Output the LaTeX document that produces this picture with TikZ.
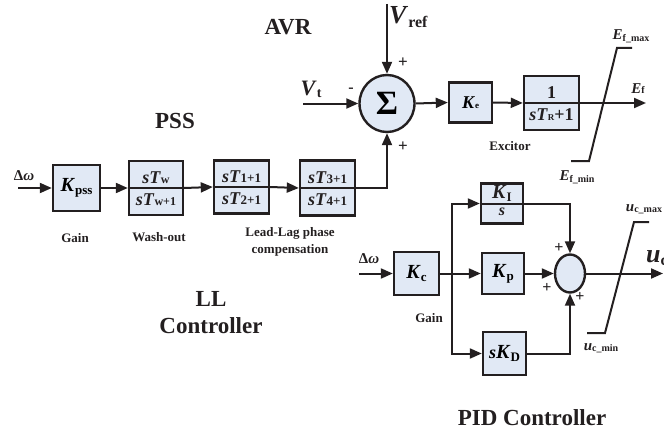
\documentclass[tikz,border=0pt]{standalone}
\usepackage{fontspec}
\setmainfont{Liberation Serif}
\usetikzlibrary{shapes.geometric,arrows.meta}
\definecolor{boxblue}{HTML}{E1E9F5}
\definecolor{ink}{HTML}{231F20}
\newcommand\fs[1]{\fontsize{#1}{#1}\selectfont}
\newcommand\lo[2]{\raisebox{-#1pt}{#2}}
\tikzset{
  blk/.style={draw=ink, line width=2.4pt, fill=boxblue, inner sep=0pt},
  arr/.style={line width=2pt, draw=ink, -{Triangle[length=12pt,width=10pt]}},
  ln/.style={line width=2pt, draw=ink},
  bar/.style={line width=2pt, draw=ink},
  lbl/.style={font=\fs{13}\bfseries, text=ink, inner sep=0pt, align=center},
  ttl/.style={font=\fontsize{23}{27}\selectfont\bfseries, text=ink, inner sep=0pt, align=center},
  sym/.style={font=\bfseries, text=ink, inner sep=0pt},
  num/.style={font=\bfseries, text=ink, inner xsep=0pt, inner ysep=4pt, anchor=south},
  den/.style={font=\bfseries, text=ink, inner xsep=0pt, inner ysep=5.5pt, anchor=north},
}
\begin{document}
\begin{tikzpicture}[x=1pt,y=-1pt]
\useasboundingbox (0,0) rectangle (664,436);
\clip (0,0) rectangle (664,436);

% ---------- titles and labels
\node[ttl] (avr) at (288,27) {AVR};
\node[ttl] (pss) at (175,121) {PSS};
\node[ttl] (llc) at (211,313) {LL\\Controller};
\node[ttl] (pidc) at (532,418) {PID Controller};
\node[lbl] (gain1) at (75,238) {Gain};
\node[lbl] (wash) at (159,237) {Wash-out};
\node[lbl, font=\fontsize{13}{17}\selectfont\bfseries] (llp) at (290,242) {Lead-Lag phase\\compensation};
\node[lbl] (exc) at (510,146) {Excitor};
\node[lbl] (gain2) at (429,318) {Gain};

% ---------- PSS chain
\coordinate (in1) at (18,188);
\node[sym, font=\fs{15}\bfseries] (dw1) at (24,176) {Δ\textit{ω}};
\node[blk, minimum width=47pt, minimum height=46pt, font=\bfseries] (kpss) at (76.5,188)
  {\fs{20}\textit{K}\lo{3}{\fs{13}pss}};
\node[blk, minimum width=54pt, minimum height=54pt] (tw) at (156,188) {};
\node[blk, minimum width=55pt, minimum height=53pt] (t1) at (241.5,187) {};
\node[blk, minimum width=55pt, minimum height=55pt] (t3) at (327.5,188) {};
\draw[bar] (tw.west) -- (tw.east);
\draw[bar] (t1.west) -- (t1.east);
\draw[bar] (t3.west) -- (t3.east);
\node[num] (twn) at (tw.center) {\fs{18}\textit{sT}\fs{12}w};
\node[den] (twd) at (tw.center) {\fs{18}\textit{sT}\fs{12}w+1};
\node[num] (t1n) at (t1.center) {\fs{18}\textit{sT}\fs{13}1+1};
\node[den] (t1d) at (t1.center) {\fs{18}\textit{sT}\fs{13}2+1};
\node[num] (t3n) at (t3.center) {\fs{18}\textit{sT}\fs{13}3+1};
\node[den] (t3d) at (t3.center) {\fs{18}\textit{sT}\fs{13}4+1};
\draw[arr] (in1) -- (kpss.west);
\draw[arr] (kpss.east) -- (tw.west);
\draw[arr] (tw.east) -- (t1.west);
\draw[arr] (t1.east) -- (t3.west);

% ---------- AVR
\node[blk, ellipse, minimum width=55pt, minimum height=57pt, line width=2.4pt,
  font=\fs{34}\bfseries] (sum) at (387,103.5) {Σ};
\coordinate (vref) at (387,4);
\coordinate (vt) at (303,103.5);
\node[sym, anchor=west] (vreft) at (389,17) {\fs{26}\textit{V}\lo{4}{\fs{16}ref}};
\node[sym] (vtt) at (311,89) {\fs{22}\textit{V}\lo{2}{\fs{14}t}};
\node[sym, font=\fs{16}\bfseries] (minus) at (351,90) {-};
\node[sym, font=\fs{17}\bfseries] (p1) at (403,63) {+};
\node[sym, font=\fs{17}\bfseries] (p2) at (403,147) {+};
\draw[arr] (vref) -- (sum.north);
\draw[arr] (vt) -- (sum.west);
\draw[arr] (t3.east) -| (sum.south);

\node[blk, minimum width=43pt, minimum height=40pt, font=\bfseries] (ke) at (470.5,102.5)
  {\fs{18}\textit{K}\fs{9}e};
\node[blk, minimum width=55pt, minimum height=54pt] (tr) at (551.5,103) {};
\draw[bar] (tr.west) -- (tr.east);
\node[num] (trn) at (tr.center) {\fs{18}1};
\node[den] (trd) at (tr.center) {\fs{18}\textit{sT}\fs{9}R\fs{18}+1};
\coordinate (ef) at (646,103);
\draw[arr] (sum.east) -- (ke.west);
\draw[arr] (ke.east) -- (tr.west);
\draw[arr] (tr.east) -- (ef);
\draw[ln] (571,161) -- (589,161) -- (617,48) -- (632,48);
\node[sym] (efmax) at (631,36) {\fs{15}\textit{E}\lo{2}{\fs{10}f\_max}};
\node[sym] (eft) at (638,89) {\fs{15}\textit{E}\fs{10}f};
\node[sym] (efmin) at (577,177) {\fs{15}\textit{E}\lo{2}{\fs{10}f\_min}};

% ---------- PID
\coordinate (in2) at (359,273.5);
\node[sym, font=\fs{15}\bfseries] (dw2) at (369,259) {Δ\textit{ω}};
\node[blk, minimum width=45pt, minimum height=43pt, font=\bfseries] (kc) at (416.5,273.5)
  {\fs{20}\textit{K}\lo{3}{\fs{13}c}};
\coordinate (jn) at (452,273.5);
\node[blk, minimum width=42pt, minimum height=40pt] (ki) at (502,203.5) {};
\draw[bar] (ki.west) -- (ki.east);
\node[num, inner ysep=1.5pt] (kin) at (ki.center) {\fs{20}\textit{K}\lo{3}{\fs{13}I}};
\node[den, inner ysep=4pt] (kid) at (ki.center) {\fs{16}\textit{s}};
\node[blk, minimum width=42pt, minimum height=41pt, font=\bfseries] (kp) at (503,273.5)
  {\fs{20}\textit{K}\lo{3}{\fs{13}p}};
\node[blk, minimum width=43pt, minimum height=43pt, font=\bfseries] (kd) at (504.5,353.5)
  {\fs{18}\textit{s}\fs{20}\textit{K}\lo{3}{\fs{13}D}};
\node[blk, ellipse, minimum width=30pt, minimum height=38pt] (ps) at (570,273.5) {};
\coordinate (uc) at (663,273.5);
\draw[arr] (in2) -- (kc.west);
\draw[ln] (kc.east) -- (jn);
\draw[arr] (jn) -- (kp.west);
\draw[arr] (jn) |- (ki.west);
\draw[arr] (jn) |- (kd.west);
\draw[arr] (ki.east) -| (ps.north);
\draw[arr] (kp.east) -- (ps.west);
\draw[arr] (kd.east) -| (ps.south);
\draw[arr] (ps.east) -- (uc);
\node[sym, font=\fs{16}\bfseries] (pp1) at (559,248) {+};
\node[sym, font=\fs{16}\bfseries] (pp2) at (547,288) {+};
\node[sym, font=\fs{16}\bfseries] (pp3) at (580,297) {+};
\draw[ln] (587,333) -- (605,333) -- (634,222) -- (649,222);
\node[sym] (ucmax) at (644,209) {\fs{15}\textit{u}\lo{1}{\fs{10}c\_max}};
\node[sym] (ucmin) at (601,348) {\fs{15}\textit{u}\lo{1}{\fs{10}c\_min}};
\node[sym, anchor=west] (uct) at (646,258) {\fs{26}\textit{u}\lo{3}{\fs{16}c}};
\end{tikzpicture}
\end{document}
